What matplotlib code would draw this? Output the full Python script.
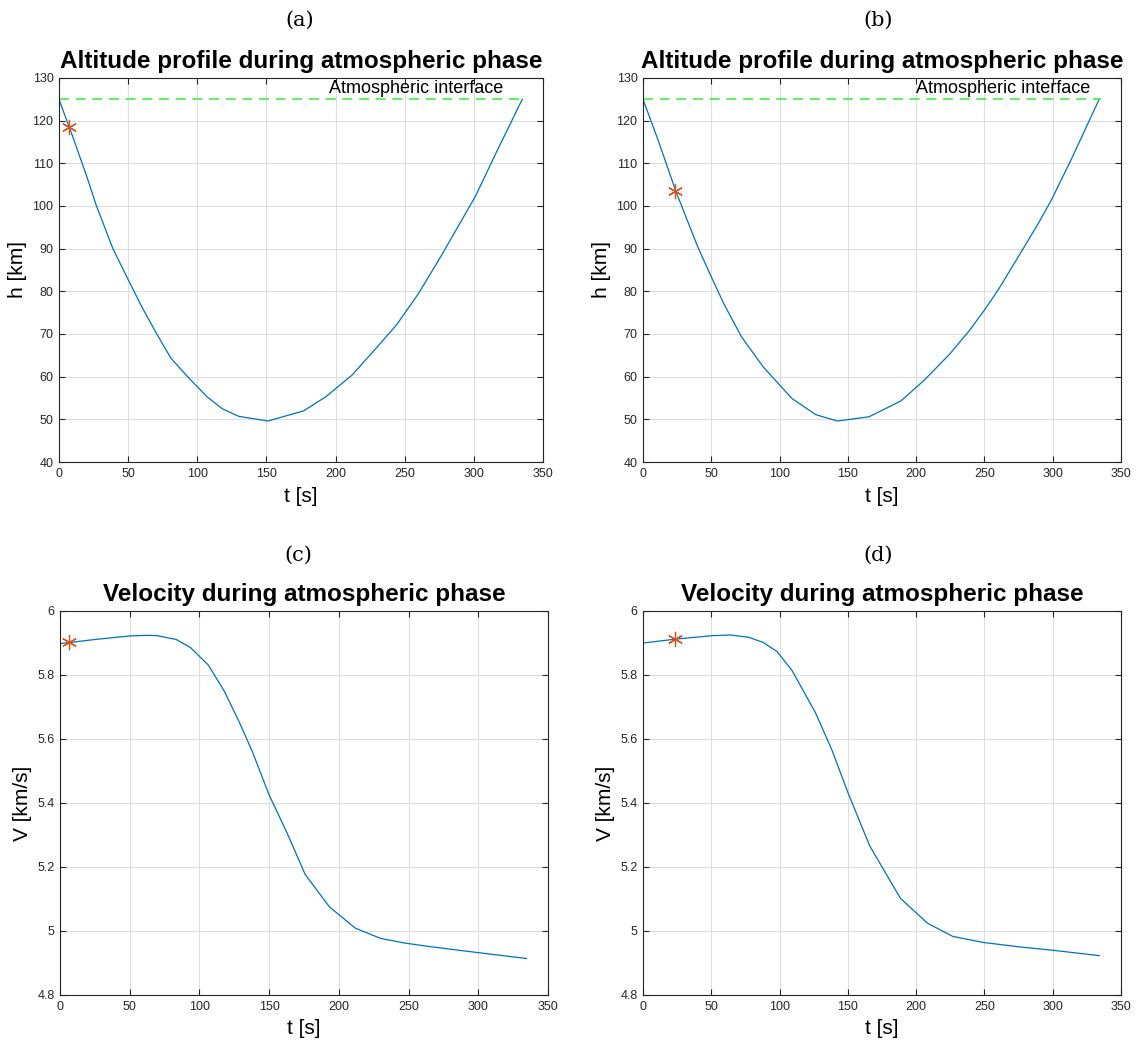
import matplotlib.pyplot as plt
import matplotlib
import numpy as np
from matplotlib.ticker import FuncFormatter, MultipleLocator

matplotlib.rcParams['font.family'] = 'Liberation Sans'

# --- data ------------------------------------------------------------------
t_a = [0, 10, 20, 27, 39, 49, 60, 70, 81, 93, 107, 118, 130, 151, 177, 193,
       212, 228, 244, 260, 276, 290, 301, 316, 335]
h_a = [125, 116.2, 107, 100.1, 90, 83.4, 76.3, 70.4, 64.3, 60, 55.3, 52.5,
       50.7, 49.6, 52, 55.3, 60.4, 66.2, 72.1, 79.5, 88.1, 96, 102.2, 112.4, 125]
star_a = (7, 118.5)

t_b = [0, 11, 24, 40, 50, 59, 72, 88, 109, 126.5, 142.4, 165.5, 188.8, 206,
       224.6, 239.2, 250, 260, 276.3, 289.6, 299, 313.4, 334]
h_b = [125, 115.5, 103.5, 90.5, 83.4, 77.2, 69.4, 62.3, 54.9, 51.1, 49.6,
       50.6, 54.3, 59.2, 65.3, 70.9, 75.6, 80.3, 88.9, 96, 101.4, 110.8, 125]
star_b = (23.6, 103.5)

t_c = [0, 25, 50, 62.7, 69.6, 83.3, 93.5, 106.4, 118, 129, 138, 150, 163,
       175.8, 193.3, 211.8, 229.8, 247.7, 265.7, 291.4, 334.6]
v_c = [5.898, 5.911, 5.922, 5.924, 5.923, 5.911, 5.886, 5.831, 5.748, 5.649,
       5.560, 5.425, 5.305, 5.177, 5.075, 5.009, 4.977, 4.962, 4.951, 4.937, 4.914]
star_c = (6.7, 5.903)

t_d = [0, 23.6, 50.8, 64.1, 77.3, 87.9, 98, 109, 126.3, 138.2, 150.1, 166,
       188.5, 208.4, 226.9, 249.4, 278.5, 299.7, 334.1]
v_d = [5.900, 5.912, 5.923, 5.925, 5.918, 5.902, 5.874, 5.815, 5.682, 5.567,
       5.432, 5.266, 5.102, 5.024, 4.983, 4.964, 4.949, 4.940, 4.923]
star_d = (23.6, 5.913)

h_interface = 125
t_interface = [0, 335]

panels = [
    ("(a)", "Altitude profile during atmospheric phase", "h [km]", t_a, h_a, star_a, True),
    ("(b)", "Altitude profile during atmospheric phase", "h [km]", t_b, h_b, star_b, True),
    ("(c)", "Velocity during atmospheric phase", "V [km/s]", t_c, v_c, star_c, False),
    ("(d)", "Velocity during atmospheric phase", "V [km/s]", t_d, v_d, star_d, False),
]

# axes boxes in pixels: left, top, right, bottom ; panel letter centre x, y
W, H = 1145, 1046
boxes = [(59, 78, 543, 462), (643, 78, 1121, 462),
         (60, 611, 548, 995), (643, 611, 1121, 995)]
letters = [(300, 20), (878, 20), (298, 555), (878, 555)]

fig = plt.figure(figsize=(W / 100, H / 100), dpi=100)

dark = '#262626'
for (lab, title, ylab, t, y, star, is_alt), (l, tp, r, b), (lx, ly) in zip(panels, boxes, letters):
    ax = fig.add_axes([l / W, 1 - b / H, (r - l) / W, (b - tp) / H])
    ax.plot(t, y, color='#0072BD', linewidth=0.9)
    # MATLAB '*' marker: six-armed asterisk
    ax.plot([star[0]], [star[1]], marker=(6, 2, 0), linestyle='none',
            color='#D95319', markersize=11, markeredgewidth=0.9)

    ax.set_xlim(0, 350)
    ax.xaxis.set_major_locator(MultipleLocator(50))
    if is_alt:
        ax.plot(t_interface, [h_interface, h_interface], '--', color='#44ee44',
                linewidth=1.2, dashes=(6, 4))
        ax.text(200 if lab == "(b)" else 195, h_interface + 0.6,
                "Atmospheric interface", fontsize=13, va='bottom', ha='left')
        ax.set_ylim(40, 130)
        ax.yaxis.set_major_locator(MultipleLocator(10))
    else:
        ax.set_ylim(4.8, 6)
        ax.yaxis.set_major_locator(MultipleLocator(0.2))
    ax.yaxis.set_major_formatter(FuncFormatter(lambda v, p: f"{v:g}"))

    ax.grid(True, color='#dedede', linewidth=0.8)
    ax.set_axisbelow(True)
    ax.tick_params(direction='in', top=True, right=True, length=4,
                   labelsize=9, colors=dark, width=0.8, pad=4)
    for s in ax.spines.values():
        s.set_color(dark)
        s.set_linewidth(0.8)

    ax.set_xlabel("t [s]", fontsize=15, labelpad=5)
    ax.set_ylabel(ylab, fontsize=15, labelpad=4)
    ax.set_title(title, fontsize=17.5, fontweight='bold', pad=7)

    fig.text(lx / W, 1 - ly / H, lab, fontsize=15, family='DejaVu Serif',
             ha='center', va='center')

plt.savefig("out.png", dpi=100)
